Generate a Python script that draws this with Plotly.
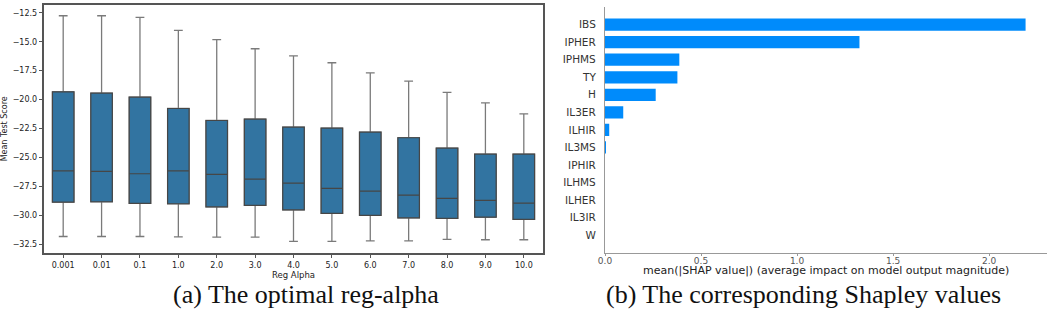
import plotly.graph_objects as go

# ---------------- data ----------------
alphas = ["0.001", "0.01", "0.1", "1.0", "2.0", "3.0", "4.0", "5.0", "6.0", "7.0", "8.0", "9.0", "10.0"]
upper_whisker = [-12.76, -12.76, -12.90, -14.02, -14.83, -15.61, -16.22, -16.82, -17.69, -18.40, -19.38, -20.28, -21.23]
q3_vals = [-19.33, -19.44, -19.79, -20.77, -21.81, -21.69, -22.38, -22.46, -22.81, -23.30, -24.19, -24.71, -24.71]
median_vals = [-26.16, -26.21, -26.41, -26.16, -26.47, -26.87, -27.22, -27.68, -27.91, -28.26, -28.54, -28.71, -28.95]
q1_vals = [-28.86, -28.83, -28.97, -29.00, -29.27, -29.15, -29.53, -29.84, -30.01, -30.22, -30.27, -30.16, -30.35]
lower_whisker = [-31.83, -31.83, -31.83, -31.86, -31.89, -31.89, -32.26, -32.26, -32.20, -32.20, -32.08, -32.11, -32.11]

features = ["IBS", "IPHER", "IPHMS", "TY", "H", "IL3ER", "ILHIR", "IL3MS",
            "IPHIR", "ILHMS", "ILHER", "IL3IR", "W"]
shap_vals = [2.19, 1.325, 0.387, 0.377, 0.264, 0.095, 0.022, 0.005,
             0.0, 0.0, 0.0, 0.0, 0.0]

left_yticks = [-32.5, -30.0, -27.5, -25.0, -22.5, -20.0, -17.5, -15.0, -12.5]
right_xticks = [0.0, 0.5, 1.0, 1.5, 2.0]

# ---------------- figure ----------------
W, H = 1052, 311
fig = go.Figure()

# whiskers + caps (lighter gray)
fig.add_trace(go.Box(
    x=alphas, q1=q1_vals, median=median_vals, q3=q3_vals,
    lowerfence=lower_whisker, upperfence=upper_whisker,
    fillcolor="#3274A1", line=dict(color="#7a7a7a", width=1.3),
    whiskerwidth=0.41, boxpoints=False, showlegend=False,
    xaxis="x", yaxis="y", hoverinfo="skip",
))
# box body with darker outline and median
fig.add_trace(go.Box(
    x=alphas, q1=q1_vals, median=median_vals, q3=q3_vals,
    lowerfence=q1_vals, upperfence=q3_vals,
    fillcolor="#3274A1", line=dict(color="#464646", width=1.2),
    whiskerwidth=0, boxpoints=False, showlegend=False,
    xaxis="x", yaxis="y", hoverinfo="skip",
))

fig.add_trace(go.Bar(
    x=shap_vals, y=features, orientation="h",
    marker=dict(color="#008bfb", line=dict(width=0)),
    width=0.7, showlegend=False, xaxis="x2", yaxis="y2", hoverinfo="skip",
))

def px_x(p):
    return p / W

def px_y(p):
    return 1 - p / H

tick_font = dict(family="DejaVu Sans", size=8, color="#222222")

fig.update_layout(
    width=W, height=H,
    margin=dict(l=0, r=0, t=0, b=0, autoexpand=False),
    paper_bgcolor="white", plot_bgcolor="white",
    boxgap=0.2, boxmode="overlay",
    xaxis=dict(
        domain=[px_x(44), px_x(543)], anchor="y", automargin=False,
        type="category", range=[-0.5, 12.5],
        showline=True, linecolor="#555555", linewidth=1.5, mirror=True,
        ticks="outside", ticklen=3.5, tickcolor="#555555",
        tickfont=tick_font, showgrid=False, zeroline=False,
        title=dict(text="Reg Alpha", font=dict(family="DejaVu Sans", size=8.5, color="#222222"), standoff=1),
    ),
    yaxis=dict(
        domain=[px_y(252.7), px_y(5)], anchor="x", automargin=False,
        range=[-33.23, -11.83],
        tickvals=left_yticks, ticktext=[("\u2212%.1f" % abs(v)) for v in left_yticks],
        showline=True, linecolor="#555555", linewidth=1.5, mirror=True,
        ticks="outside", ticklen=3.5, tickcolor="#555555",
        tickfont=tick_font, showgrid=False, zeroline=False,
        title=dict(text="Mean Test Score", font=dict(family="DejaVu Sans", size=8, color="#222222"), standoff=4),
    ),
    xaxis2=dict(
        domain=[px_x(605), px_x(1046.7)], anchor="y2", automargin=False,
        range=[0, 2.30],
        tickvals=right_xticks, ticktext=["%.1f" % v for v in right_xticks],
        showline=True, linecolor="#999999", linewidth=1.2,
        ticks="outside", ticklen=2, tickcolor="#999999",
        tickfont=dict(family="DejaVu Sans", size=9, color="#555555"),
        ticklabelstandoff=-3,
        showgrid=False, zeroline=False,
    ),
    yaxis2=dict(
        domain=[px_y(252.7), px_y(7.1)], anchor="x2", automargin=False,
        type="category", categoryorder="array", categoryarray=features[::-1],
        range=[-1, 13],
        showline=True, linecolor="#999999", linewidth=1.2,
        ticks="", tickfont=dict(family="DejaVu Sans", size=10.5, color="#333333"),
        showgrid=False, zeroline=False, ticklabelstandoff=6,
    ),
    annotations=[
        dict(text="mean(|SHAP value|) (average impact on model output magnitude)",
             x=px_x(826), y=px_y(270), xref="paper", yref="paper",
             xanchor="center", yanchor="middle", showarrow=False,
             font=dict(family="DejaVu Sans", size=11, color="#222222")),
        dict(text="(a) The optimal reg-alpha", x=px_x(306), y=px_y(294), xref="paper", yref="paper",
             xanchor="center", yanchor="middle", showarrow=False,
             font=dict(family="Liberation Serif", size=26, color="#111111")),
        dict(text="(b) The corresponding Shapley values", x=px_x(803), y=px_y(294), xref="paper", yref="paper",
             xanchor="center", yanchor="middle", showarrow=False,
             font=dict(family="Liberation Serif", size=26, color="#111111")),
    ],
)

fig.write_html(
    "out.html",
    config={"displayModeBar": False},
    post_script="document.body.style.margin='0';document.body.style.overflow='hidden';",
)
